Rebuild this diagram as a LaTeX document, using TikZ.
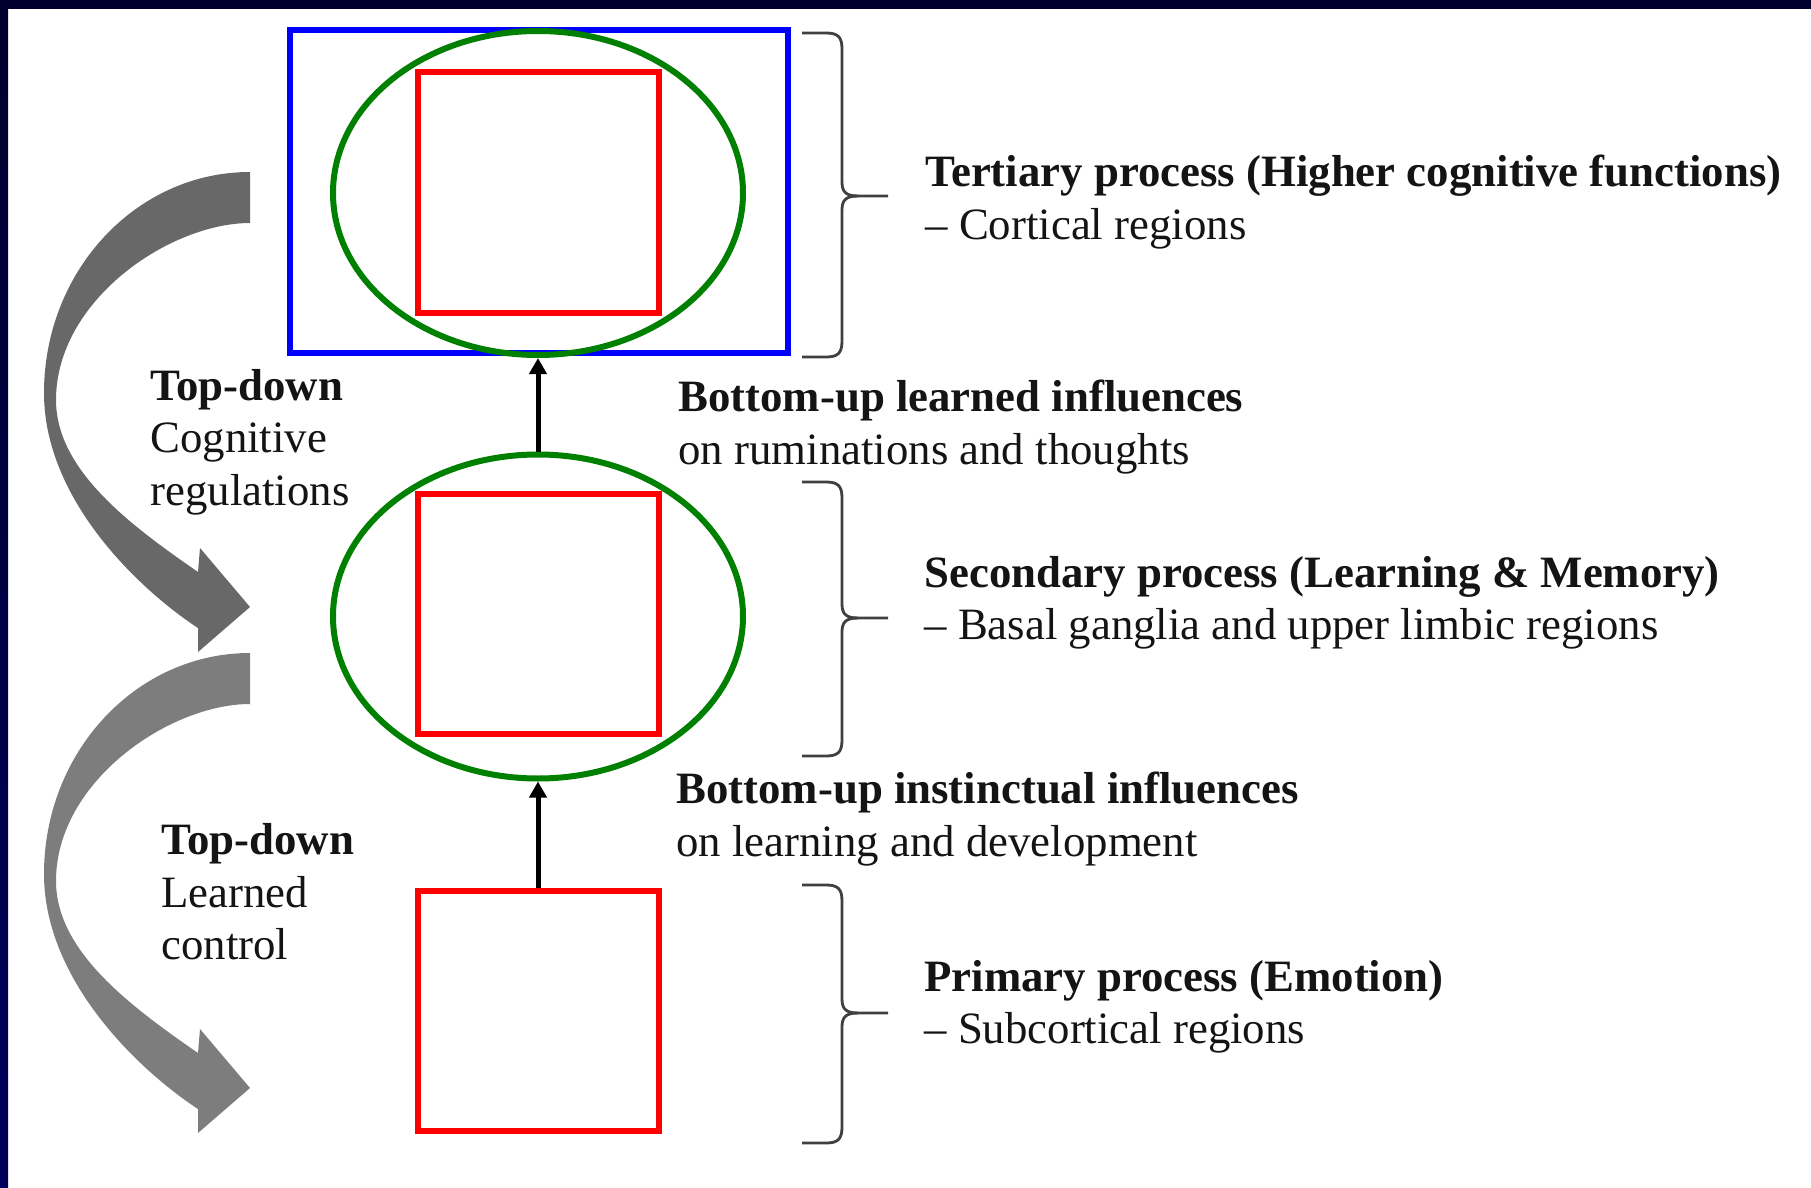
\documentclass[tikz,border=0pt]{standalone}
\usepackage{fontspec}
\setmainfont{Liberation Serif}
\usetikzlibrary{arrows.meta,shapes.geometric}
\definecolor{navytop}{RGB}{0,0,45}
\definecolor{navyleft}{RGB}{0,0,90}
\definecolor{blueR}{RGB}{0,0,255}
\definecolor{greenE}{RGB}{0,128,0}
\definecolor{redS}{RGB}{255,0,0}
\definecolor{arrowA}{RGB}{104,104,104}
\definecolor{arrowB}{RGB}{125,125,125}
\definecolor{braceC}{RGB}{64,64,64}
\definecolor{txt}{RGB}{20,20,20}
\newcommand\mybrace[3]{%
  \draw[bracepath] (802,#1) -- (826,#1) .. controls (838,#1) and (842,#1+4) .. (842,#1+16)
    -- (842,#2-14) .. controls (842,#2-4) and (846,#2) .. (858,#2) -- (888,#2);
  \draw[bracepath] (858,#2) .. controls (846,#2) and (842,#2+4) .. (842,#2+14)
    -- (842,#3-16) .. controls (842,#3-4) and (838,#3) .. (826,#3) -- (802,#3);
}
\newcommand\mycurvedarrow{%
  (250,172) .. controls (136,172) and (44,271) .. (44,393)
  .. controls (44,500) and (140,590) .. (198,628)
  -- (198,652) -- (250,607) -- (200,548) -- (198,572)
  .. controls (130,525) and (56,470) .. (56,400)
  .. controls (56,300) and (170,223) .. (250,223) -- cycle
}
\begin{document}
\begin{tikzpicture}[x=0.5pt,y=-0.5pt,
  outerbox/.style={draw=blueR, line width=3pt, minimum width=249pt, minimum height=161.5pt, inner sep=0pt},
  regionell/.style={ellipse, draw=greenE, line width=3pt, minimum width=205pt, minimum height=162pt, inner sep=0pt},
  regionsq/.style={draw=redS, line width=3pt, minimum width=120.5pt, minimum height=120pt, inner sep=0pt},
  uparrow/.style={line width=2.5pt, -{Triangle[width=8.5pt,length=8pt]}},
  bracepath/.style={draw=braceC, line width=1.4pt},
  lbl/.style={anchor=west, align=left, inner sep=0pt, text=txt, font=\fontsize{22.4}{26.25}\selectfont},
]
\useasboundingbox (0,0) rectangle (1811,1188);
\fill[white] (0,0) rectangle (1811,1188);
\fill[navytop] (0,0) rectangle (1811,9);
\shade[top color=navytop, bottom color=navyleft] (0,0) rectangle (8,1188);

% boxes and ellipses
\node[outerbox] (tbox) at (539,191.5) {};
\node[regionell] (tell) at (538,193) {};
\node[regionsq] (tsq) at (538,192.5) {};
\node[regionell] (mell) at (538,616.5) {};
\node[regionsq] (msq) at (538,614) {};
\node[regionsq] (bsq) at (538,1011) {};

% bottom-up arrows
\draw[uparrow] (mell.north) -- (tell.south);
\draw[uparrow] (bsq.north) -- (mell.south);

% top-down curved arrows
\fill[arrowA] \mycurvedarrow;
\begin{scope}[shift={(0,481)}]
  \fill[arrowB] \mycurvedarrow;
\end{scope}

% braces
\mybrace{33}{196}{357}
\mybrace{482}{618}{756}
\mybrace{885}{1013}{1143}

% labels
\node[lbl] (tert) at (925,202) {\textbf{Tertiary process (Higher cognitive functions)}\\– Cortical regions};
\node[lbl] (buL) at (678,427) {\textbf{Bottom-up learned influences}\\on ruminations and thoughts};
\node[lbl] (tdC) at (150,442) {\textbf{Top-down}\\Cognitive\\regulations};
\node[lbl] (sec) at (924,603) {\textbf{Secondary process (Learning \& Memory)}\\– Basal ganglia and upper limbic regions};
\node[lbl] (buI) at (676,819) {\textbf{Bottom-up instinctual influences}\\on learning and development};
\node[lbl] (tdL) at (161,892) {\textbf{Top-down}\\Learned\\control};
\node[lbl] (pri) at (924,1007) {\textbf{Primary process (Emotion)}\\– Subcortical regions};
\end{tikzpicture}
\end{document}
